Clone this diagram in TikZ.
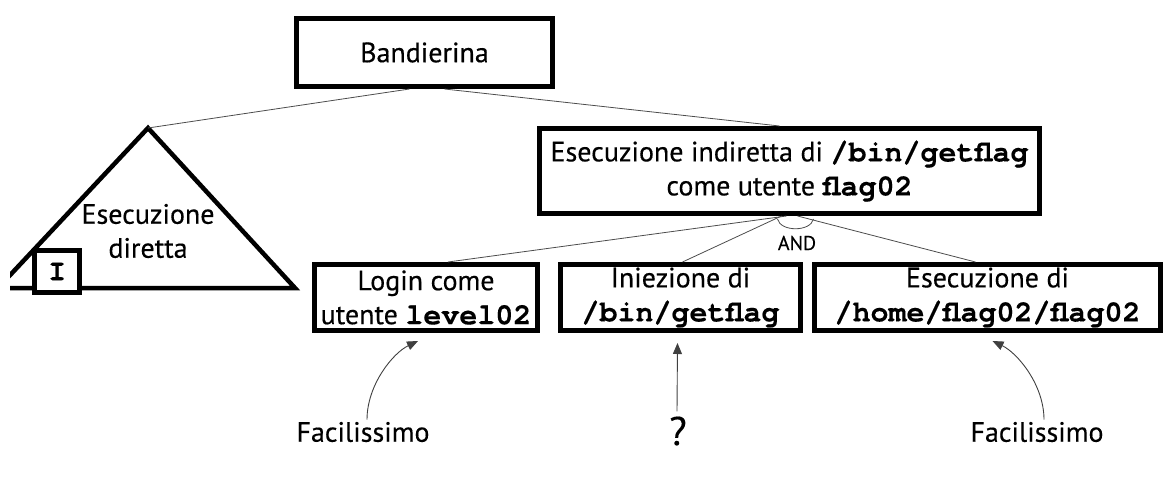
\documentclass[tikz,border=0pt]{standalone}
\usepackage{fontspec}
\setmainfont{PT Sans}[FakeBold=0.35]
\newfontfamily\codefont{texgyrecursor}[Extension=.otf, UprightFont=*-regular, BoldFont=*-bold, BoldFeatures={FakeBold=0.3}]
\usetikzlibrary{arrows.meta,calc}
\newcommand{\cod}[1]{{\codefont\bfseries\fontsize{30}{34}\selectfont #1}}
\tikzset{
  box/.style={draw, line width=5pt, fill=white, inner sep=0pt, align=center,
    font=\fontsize{28}{34}\selectfont},
  thinline/.style={draw=black!70, line width=0.8pt},
  arr/.style={draw=black!75, line width=0.9pt, -{Triangle[length=11pt,width=9pt]}},
  lbl/.style={inner sep=0pt, font=\fontsize{28}{34}\selectfont},
}
\begin{document}
\begin{tikzpicture}[x=1pt,y=-1pt]
\useasboundingbox (0,0) rectangle (1167,484);

% triangle (subtree)
\coordinate (apex) at (148,128);
\coordinate (tl) at (-2,288);
\coordinate (tr) at (295,288);
\begin{scope}
\clip (10,0) rectangle (1167,484);
\draw[line width=4.5pt, line join=miter] (tl) -- (apex) -- (tr) -- cycle;
\end{scope}
\node[lbl, align=center] (dir) at (148,231) {Esecuzione\\diretta};
\node[box, minimum width=45pt, minimum height=42pt] (ibox) at (57,271.5) {\cod{I}};

% boxes
\node[box, minimum width=256pt, minimum height=68pt] (band) at (424.5,52.5) {Bandierina};
\node[box, minimum width=500pt, minimum height=85pt] (ind) at (789.5,171)
  {Esecuzione indiretta di \cod{/bin/getflag}\\come utente \cod{flag02}};
\node[box, minimum width=223pt, minimum height=66pt] (login) at (426,297.5)
  {Login come\\utente \cod{level02}};
\node[box, minimum width=240pt, minimum height=66pt] (inj) at (680.5,297.5)
  {Iniezione di\\\cod{/bin/getflag}};
\node[box, minimum width=346pt, minimum height=66pt] (exe) at (987.5,297.5)
  {Esecuzione di\\\cod{/home/flag02/flag02}};

% tree connectors
\draw[thinline] ($(band.south)+(-15,0)$) -- (apex);
\draw[thinline] ($(band.south)+(20,0)$) -- ($(ind.north)+(-10,0)$);
\draw[thinline] ($(ind.south)+(-3,0)$) -- ($(login.north)+(22,0)$);
\draw[thinline] ($(ind.south)+(-8,0)$) -- ($(inj.north)+(2,0)$);
\draw[thinline] ($(ind.south)+(8,0)$) -- ($(exe.north)+(-12,0)$);
\coordinate (andL) at ($(ind.south)+(-12,3)$);
\coordinate (andR) at ($(ind.south)+(24,3)$);
\draw[thinline] (andL) .. controls +(3,13) and +(-3,13) .. (andR);
\node[inner sep=0pt, font=\fontsize{20}{24}\selectfont] (and) at (797,243) {AND};

% annotations
\node[lbl] (f1) at (363,432) {Facilissimo};
\node[inner sep=0pt, font=\fontsize{40}{44}\selectfont] (q) at (678,431) {?};
\node[lbl] (f2) at (1037,432) {Facilissimo};
\draw[arr] ($(f1.north)+(4,-2)$) .. controls +(0,-35) and +(-25,12) .. ($(login.south)+(-8,8)$);
\draw[arr] ($(q.north)+(-1,-5)$) -- ($(inj.south)+(-3,10)$);
\draw[arr] ($(f2.north)+(7,-2)$) .. controls +(0,-35) and +(25,12) .. ($(exe.south)+(5,8)$);
\end{tikzpicture}
\end{document}
